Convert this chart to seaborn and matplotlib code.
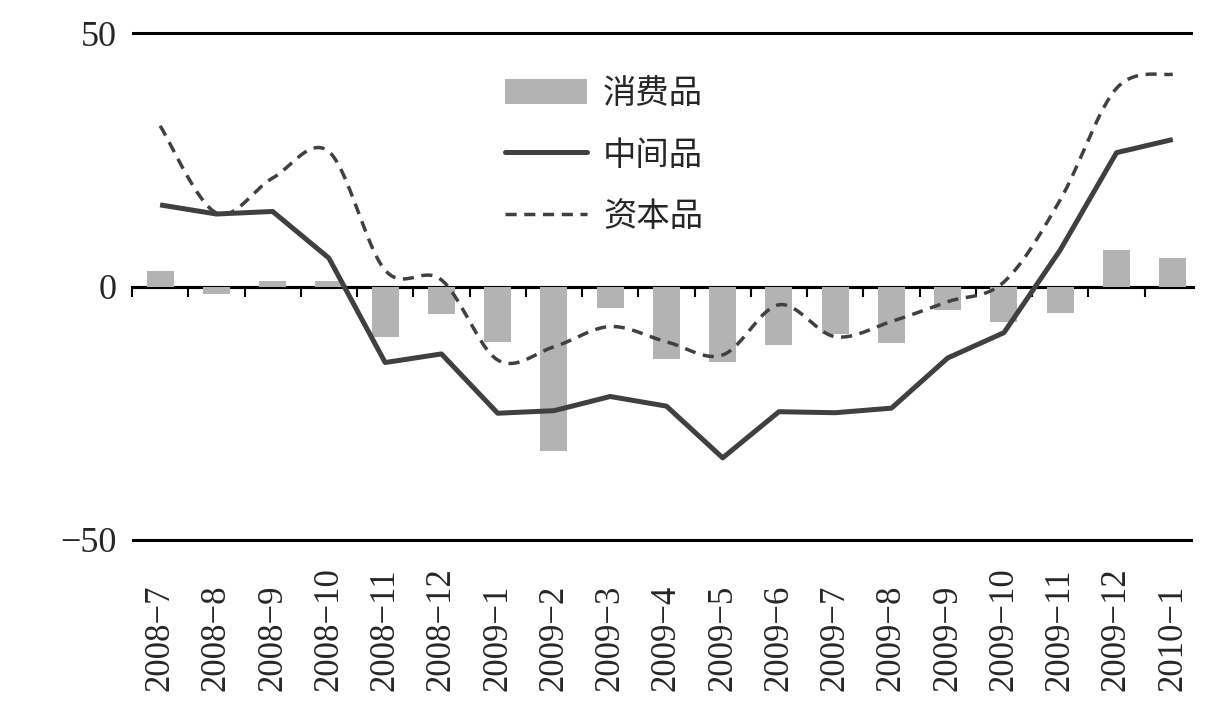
import numpy as np
import pandas as pd
import matplotlib
matplotlib.use("Agg")
import matplotlib.pyplot as plt
import seaborn as sns
from matplotlib.patches import Patch
from matplotlib.lines import Line2D
from matplotlib.font_manager import FontProperties

# ---------------- data ----------------
months = ["2008−7", "2008−8", "2008−9", "2008−10", "2008−11", "2008−12",
          "2009−1", "2009−2", "2009−3", "2009−4", "2009−5", "2009−6",
          "2009−7", "2009−8", "2009−9", "2009−10", "2009−11", "2009−12",
          "2010−1"]
consumer = [3.1, -1.5, 1.0, 1.0, -9.9, -5.5, -11.0, -32.4, -4.2, -14.3,
            -14.9, -11.5, -9.4, -11.1, -4.6, -7.1, -5.2, 7.2, 5.7]
intermediate = [16.1, 14.3, 14.8, 5.6, -15.0, -13.3, -25.0, -24.5, -21.7,
                -23.6, -33.8, -24.7, -24.9, -24.0, -14.1, -9.1, 7.2, 26.4, 29.0]
capital = [31.7, 14.5, 21.4, 26.6, 3.2, 1.3, -14.5, -11.9, -7.9, -10.9,
           -13.5, -3.6, -9.9, -6.9, -3.0, 0.9, 17.1, 39.1, 41.9]
series_names = ["消费品", "中间品", "资本品"]
y_ticks = [-50, 0, 50]
y_ticklabels = ["−50", "0", "50"]

BAR_COLOR = "#b3b3b3"
LINE_COLOR = "#404040"

df = pd.DataFrame({"month": months, "pos": np.arange(len(months)),
                   "consumer": consumer, "intermediate": intermediate,
                   "capital": capital})


def smooth(x, y, n=24):
    """Cubic Bezier smoothing through the points (Excel-like smoothed line)."""
    P = np.column_stack([x, y]).astype(float)
    E = np.vstack([P[0], P, P[-1]])
    out = []
    t = np.linspace(0, 1, n, endpoint=False)[:, None]
    for i in range(len(P) - 1):
        p0, p1, p2, p3 = E[i], E[i + 1], E[i + 2], E[i + 3]
        c1 = p1 + (p2 - p0) / 6.0
        c2 = p2 - (p3 - p1) / 6.0
        out.append((1 - t) ** 3 * p1 + 3 * (1 - t) ** 2 * t * c1
                   + 3 * (1 - t) * t ** 2 * c2 + t ** 3 * p2)
    out.append(P[-1:])
    return np.vstack(out)


sm = smooth(df["pos"].values, df["capital"].values)
df_sm = pd.DataFrame({"x": sm[:, 0], "y": sm[:, 1]})

# ---------------- figure ----------------
sns.set_theme(style="white")
plt.rcParams["font.family"] = ["Liberation Serif", "DejaVu Serif"]
plt.rcParams["axes.unicode_minus"] = True

fig = plt.figure(figsize=(12.18, 7.18), dpi=100)
ax = fig.add_axes([132 / 1218, 1 - 543 / 718, (1193 - 132) / 1218, 513 / 718])
ax.set_facecolor("white")

sns.barplot(data=df, x="month", y="consumer", order=months, color=BAR_COLOR,
            saturation=1, width=0.48, errorbar=None, linewidth=0, zorder=3, ax=ax)
sns.lineplot(data=df, x="pos", y="intermediate", color=LINE_COLOR, linewidth=3.6,
             zorder=4, ax=ax, solid_capstyle="butt")
sns.lineplot(data=df_sm, x="x", y="y", sort=False, estimator=None, color=LINE_COLOR,
             linewidth=2.5, linestyle=(0, (3.2, 2.2)), zorder=4, ax=ax)

ax.set_xlim(-0.5, 18.36)
ax.set_ylim(-50.6, 50.6)
ax.set_xlabel("")
ax.set_ylabel("")

# y axis
ax.set_yticks(y_ticks)
ax.set_yticklabels(y_ticklabels, fontsize=26)
ax.tick_params(axis="y", length=0, pad=11)
ax.grid(axis="y", color="black", linewidth=2.2)
ax.grid(axis="x", visible=False)

# spines
for s in ["left", "right", "top"]:
    ax.spines[s].set_visible(False)
ax.spines["bottom"].set_position(("data", 0))
ax.spines["bottom"].set_color("black")
ax.spines["bottom"].set_linewidth(2.2)
ax.spines["bottom"].set_zorder(2)

# x ticks
ax.set_xticks(np.arange(len(months)))
ax.set_xticklabels(months, rotation=90, va="bottom", ha="center", fontsize=25)
ax.set_xticks(np.arange(-0.5, len(months) - 1, 1), minor=True)
ax.tick_params(axis="x", which="major", length=0, pad=291)
ax.tick_params(axis="x", which="minor", length=7, width=1.5, direction="out",
               color="black", bottom=True)

# legend
handles = [Patch(facecolor=BAR_COLOR, edgecolor="none"),
           Line2D([], [], color=LINE_COLOR, lw=3.6),
           Line2D([], [], color=LINE_COLOR, lw=2.5, linestyle=(0, (3.2, 2.2)))]
fig.legend(handles, series_names, loc="upper left",
           bbox_to_anchor=(505 / 1218, 1 - 76 / 718), frameon=False,
           prop=FontProperties(family=["Noto Sans CJK SC"], size=24),
           handlelength=2.46, handleheight=0.8, handletextpad=0.48,
           labelspacing=0.8, borderpad=0, borderaxespad=0)

fig.savefig("out.png", dpi=100)
